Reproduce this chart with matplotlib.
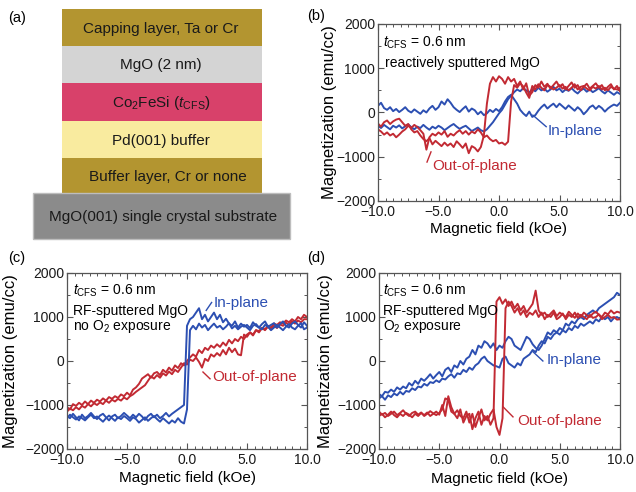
import numpy as np
import matplotlib
matplotlib.use("Agg")
from matplotlib import pyplot as plt
from matplotlib.patches import Rectangle
from matplotlib.ticker import MultipleLocator

plt.rcParams['font.family'] = ['Liberation Sans', 'DejaVu Sans']
plt.rcParams['mathtext.fontset'] = 'custom'
plt.rcParams['mathtext.rm'] = 'Liberation Sans'
plt.rcParams['mathtext.it'] = 'Liberation Sans:italic'

BLUE = "#2c4fb2"
RED = "#c22a33"

# field grid (kOe), one sweep branch per array
field = np.linspace(-10, 10, 81)

# (b) reactively sputtered MgO
b_ip_up = [-300, -350, -280, -330, -380, -300, -340, -290, -360, -310,
           -270, -330, -380, -320, -350, -280, -340, -390, -320, -360,
           -300, -340, -400, -350, -300, -260, -320, -370, -330, -300,
           -360, -420, -380, -340, -400, -430, -380, -300, -220, -120,
           -20, 60, 180, 300, 380, 460, 520, 480, 550, 500,
           450, 530, 480, 560, 500, 540, 470, 520, 580, 500,
           540, 460, 520, 490, 550, 480, 430, 500, 540, 470,
           520, 460, 500, 550, 480, 430, 500, 450, 400, 460,
           420]
b_ip_flat = [150, 220, 100, 60, 120, 30, 80, 10, 60, 120,
             40, 0, 70, 20, -30, 50, 0, 90, 150, 60,
             120, 250, 180, 300, 220, 120, 60, 10, 80, 140,
             20, 90, 50, -40, 20, -60, -20, 60, 10, 80,
             30, 120, 250, 350, 400, 300, 200, 60, -20, -80,
             20, -100, -60, 40, 120, 180, 90, 150, 200, 120,
             200, 140, 80, 160, 100, 40, 120, 60, -40, 30,
             120, 160, 80, 150, 100, 20, 90, 140, 180, 150,
             220]
b_op_1 = [-250, -320, -220, -180, -260, -200, -160, -140, -220, -300,
          -260, -380, -450, -420, -520, -600, -650, -580, -720, -640,
          -700, -760, -680, -750, -700, -780, -650, -720, -800, -700,
          -920, -760, -800, -880, -780, -520, 200, 650, 800, 700,
          820, 760, 650, 800, 700, 760, 600, 700, 520, 660,
          380, 460, 620, 560, 700, 580, 650, 540, 620, 700,
          580, 640, 520, 600, 680, 560, 620, 500, 580, 650,
          540, 600, 660, 560, 620, 500, 580, 640, 520, 600,
          480]
b_op_2 = [-380, -430, -500, -450, -520, -480, -560, -500, -430, -380,
          -300, -350, -280, -330, -400, -480, -840, -560, -480, -520,
          -450, -500, -420, -550, -480, -520, -450, -400, -480, -420,
          -500, -430, -470, -380, -450, -560, -520, -600, -650, -620,
          -700, -680, -730, -660, 250, 620, 560, 660, 590, 450,
          330, 600, 520, 640, 560, 500, 620, 580, 520, 560,
          620, 540, 580, 500, 560, 640, 520, 580, 600, 540,
          500, 580, 540, 600, 520, 560, 500, 580, 540, 520,
          560]

# (c) RF-sputtered MgO, no O2 exposure
c_ip_1 = [-1250, -1300, -1200, -1280, -1350, -1220, -1300, -1250, -1180, -1260,
          -1320, -1240, -1200, -1280, -1350, -1260, -1220, -1300, -1250, -1180,
          -1240, -1300, -1220, -1280, -1200, -1260, -1340, -1250, -1200, -1280,
          -1220, -1300, -1250, -1180, -1260, -1200, -1150, -1100, -1050, -1000,
          800, 950, 1000, 1100, 1200, 950, 1050, 900, 1000, 1100,
          950, 1050, 880, 960, 850, 800, 900, 760, 850, 780,
          820, 750, 880, 800, 760, 840, 900, 780, 820, 860,
          760, 840, 900, 800, 760, 850, 900, 820, 760, 880,
          800]
c_ip_2 = [-1300, -1220, -1280, -1330, -1260, -1300, -1350, -1280, -1220, -1300,
          -1260, -1320, -1380, -1300, -1240, -1300, -1360, -1280, -1320, -1250,
          -1300, -1360, -1280, -1320, -1400, -1340, -1280, -1360, -1300, -1250,
          -1320, -1380, -1300, -1360, -1420, -1350, -1400, -1300, -1380, -1420,
          -1100, 700, 800, 720, 850, 760, 820, 700, 780, 850,
          760, 800, 720, 780, 860, 740, 800, 720, 780, 820,
          760, 700, 800, 840, 760, 720, 820, 780, 700, 760,
          820, 760, 700, 780, 840, 760, 720, 800, 860, 720,
          760]
c_op_1 = [-1050, -1100, -980, -1020, -950, -1000, -920, -980, -900, -950,
          -880, -920, -850, -900, -820, -860, -800, -840, -760, -800,
          -720, -780, -650, -600, -520, -400, -350, -300, -380, -280,
          -250, -320, -200, -260, -150, -220, -100, -160, -50, -100,
          0, 80, 150, 100, 250, 180, 300, 250, 350, 300,
          380, 320, 420, 350, 480, 400, 500, 450, 550, 500,
          600, 650, 580, 700, 680, 750, 720, 800, 760, 850,
          820, 880, 850, 920, 880, 950, 900, 1000, 950, 1050,
          1000]
c_op_2 = [-1150, -1080, -1120, -1050, -1100, -1020, -1060, -980, -1030, -960,
          -1000, -940, -980, -900, -950, -880, -920, -860, -900, -830,
          -870, -800, -760, -700, -650, -600, -550, -450, -350, -400,
          -320, -380, -280, -330, -240, -300, -200, -250, -150, -50,
          -80, 30, 0, 80, -20, -150, 50, 0, 150, 100,
          180, 120, 250, 150, 300, 200, 280, 150, 130, 600,
          550, 650, 600, 700, 650, 750, 700, 780, 720, 800,
          750, 830, 800, 870, 820, 900, 850, 920, 880, 950,
          950]

# (d) RF-sputtered MgO, O2 exposure
d_ip_up = [-750, -800, -700, -720, -650, -700, -600, -650, -580, -620,
           -500, -560, -450, -520, -400, -450, -380, -300, -400, -320,
           -250, -350, -200, -150, -250, -100, -150, 0, -80, 50,
           100, 250, 150, 350, 300, 450, 400, 300, 400, 250,
           350, 300, 450, 550, 500, 350, 300, 250, 400, 550,
           500, 380, 300, 250, 350, 500, 650, 600, 700, 650,
           750, 700, 850, 800, 900, 850, 950, 1000, 950, 1050,
           1100, 1150, 1100, 1200, 1250, 1300, 1350, 1400, 1450, 1550,
           1500]
d_ip_low = [-850, -800, -880, -780, -820, -740, -780, -700, -760, -680,
            -700, -620, -660, -580, -600, -520, -560, -480, -500, -440,
            -480, -400, -420, -350, -300, -380, -280, -300, -200, -250,
            -150, -200, -100, -50, 50, 100, 0, -50, -100, -120,
            -150, 50, 100, -50, -100, -150, -50, -100, 50, 100,
            150, 250, 200, 350, 450, 400, 550, 500, 600, 650,
            600, 700, 650, 750, 700, 800, 750, 850, 800, 850,
            900, 850, 950, 900, 1000, 950, 1000, 900, 980, 1000,
            950]
d_op_1 = [-1150, -1220, -1180, -1250, -1200, -1150, -1230, -1180, -1120, -1200,
          -1250, -1180, -1150, -1220, -1170, -1250, -1200, -1140, -1190, -1230,
          -1180, -1100, -850, -880, -1150, -1200, -1120, -1250, -1300, -1150,
          -1400, -1200, -1500, -1300, -1100, -1350, -1250, -1450, -1300, 1350,
          1450, 1300, 1400, 1250, 1350, 1200, 1300, 1150, 1250, 1100,
          1200, 1300, 1600, 1150, 1050, 1100, 1000, 1080, 1150, 1020,
          1100, 1050, 1000, 1120, 1050, 980, 1080, 1000, 1100, 1040,
          1000, 1080, 1120, 1050, 1000, 1100, 1060, 1150, 1080, 1120,
          1100]
d_op_2 = [-1250, -1200, -1280, -1220, -1150, -1230, -1280, -1200, -1250, -1180,
          -1220, -1280, -1200, -1250, -1180, -1230, -1170, -1250, -1200, -1150,
          -1220, -1000, -1250, -800, -1050, -1200, -1300, -1100, -1400, -1250,
          -1200, -1550, -1300, -1150, -1450, -1250, -1350, -1200, -1100, -1500,
          -1680, -1300, 1200, 1350, 1250, 1100, 1200, 1050, 1150, 1000,
          1100, 1050, 1150, 1000, 1100, 950, 1050, 1000, 1100, 950,
          1000, 1080, 950, 1050, 1000, 1100, 980, 1050, 1000, 950,
          1050, 980, 1000, 1060, 950, 1000, 1050, 980, 1000, 940,
          950]

# (a) layer stack: label, colour
layers = [("Capping layer, Ta or Cr", "#b39530"),
          ("MgO (2 nm)", "#d4d4d4"),
          ("Co$_2$FeSi ($t_{\\rm CFS}$)", "#d8416a"),
          ("Pd(001) buffer", "#f9eb9f"),
          ("Buffer layer, Cr or none", "#b39530")]
substrate = "MgO(001) single crystal substrate"

fig = plt.figure(figsize=(6.36, 4.92), dpi=100)

# panel (a), drawn in pixel units on a full-figure axes
ax0 = fig.add_axes([0, 0, 1, 1])
ax0.set_xlim(0, 636)
ax0.set_ylim(492, 0)
ax0.axis('off')
tops = [9, 46, 83, 121, 158, 193]
for k, (name, col) in enumerate(layers):
    ax0.add_patch(Rectangle((62, tops[k]), 200, tops[k + 1] - tops[k],
                            facecolor=col, edgecolor='none'))
    xc = 168 if k == 4 else 161
    ax0.text(xc, (tops[k] + tops[k + 1]) / 2 + 1, name, ha='center', va='center',
             fontsize=11, color='#1a1a1a')
ax0.add_patch(Rectangle((33, 193), 257, 46, facecolor='#8b8b8b', edgecolor='#bdbdbd', lw=1))
ax0.text(163, 217, substrate, ha='center', va='center', fontsize=11, color='#1a1a1a')
for lab, x, y in [("(a)", 8, 18), ("(b)", 307, 16), ("(c)", 8, 258), ("(d)", 307, 258)]:
    ax0.text(x, y, lab, ha='left', va='center', fontsize=10.5)


def style(ax, ylab_x, xlab_y):
    ax.set_xlim(-10, 10)
    ax.set_ylim(-2000, 2000)
    ax.xaxis.set_major_locator(MultipleLocator(5))
    ax.xaxis.set_minor_locator(MultipleLocator(0.625))
    ax.yaxis.set_major_locator(MultipleLocator(1000))
    ax.yaxis.set_minor_locator(MultipleLocator(500))
    ax.xaxis.set_major_formatter(lambda v, p: ("%.1f" % v).replace("-", "\u2212"))
    for s in ax.spines.values():
        s.set_color('#555555')
        s.set_linewidth(0.9)
    ax.tick_params(which='both', direction='in', top=True, right=True, colors='#555555',
                   labelcolor='#1a1a1a', labelsize=10)
    ax.tick_params(which='major', length=4.5, width=0.8)
    ax.tick_params(which='minor', length=2.5, width=0.7)
    ax.tick_params(axis='x', pad=3)
    ax.tick_params(axis='y', pad=2)
    ax.set_xlabel("Magnetic field (kOe)", fontsize=11)
    ax.set_ylabel("Magnetization (emu/cc)", fontsize=12)
    ax.yaxis.set_label_coords(ylab_x, 0.5)
    ax.xaxis.set_label_coords(0.5, xlab_y)


def tag(ax, text, color, p0, p1, pos):
    ax.plot([p0[0], p1[0]], [p0[1], p1[1]], color=color, lw=1.0)
    ax.text(pos[0], pos[1], text, color=color, fontsize=11, ha='left', va='center')


axb = fig.add_axes([378 / 636, 1 - 201 / 492, 242 / 636, 177 / 492])
axc = fig.add_axes([67 / 636, 1 - 449 / 492, 240 / 636, 176 / 492])
axd = fig.add_axes([379 / 636, 1 - 449 / 492, 241 / 636, 176 / 492])

lw = 1.4
for y in (b_ip_up, b_ip_flat):
    axb.plot(field, y, color=BLUE, lw=lw)
for y in (b_op_1, b_op_2):
    axb.plot(field, y, color=RED, lw=lw)
style(axb, -0.17, -0.119)
axb.text(0.021, 0.893, "$t_{\\rm CFS}$ = 0.6 nm", transform=axb.transAxes, fontsize=10, va='center')
axb.text(0.029, 0.78, "reactively sputtered MgO", transform=axb.transAxes, fontsize=10, va='center')
tag(axb, "In-plane", BLUE, (2.8, -60), (3.9, -320), (4.05, -410))
tag(axb, "Out-of-plane", RED, (-5.95, -1120), (-5.62, -890), (-5.5, -1205))

for y in (c_op_1, c_op_2):
    axc.plot(field, y, color=RED, lw=lw)
for y in (c_ip_1, c_ip_2):
    axc.plot(field, y, color=BLUE, lw=lw)
style(axc, -0.204, -0.125)
axc.text(0.025, 0.898, "$t_{\\rm CFS}$ = 0.6 nm", transform=axc.transAxes, fontsize=10, va='center')
axc.text(0.025, 0.784, "RF-sputtered MgO", transform=axc.transAxes, fontsize=10, va='center')
axc.text(0.025, 0.695, "no O$_2$ exposure", transform=axc.transAxes, fontsize=10, va='center')
tag(axc, "In-plane", BLUE, (1.6, 1150), (2.05, 1330), (2.25, 1320))
tag(axc, "Out-of-plane", RED, (1.33, -250), (1.92, -405), (2.08, -360))

for y in (d_ip_up, d_ip_low):
    axd.plot(field, y, color=BLUE, lw=lw)
for y in (d_op_1, d_op_2):
    axd.plot(field, y, color=RED, lw=lw)
style(axd, -0.191, -0.131)
axd.text(0.017, 0.898, "$t_{\\rm CFS}$ = 0.6 nm", transform=axd.transAxes, fontsize=10, va='center')
axd.text(0.017, 0.784, "RF-sputtered MgO", transform=axd.transAxes, fontsize=10, va='center')
axd.text(0.017, 0.695, "O$_2$ exposure", transform=axd.transAxes, fontsize=10, va='center')
tag(axd, "In-plane", BLUE, (2.78, 210), (3.6, 0), (3.95, 25))
tag(axd, "Out-of-plane", RED, (0.29, -1040), (1.12, -1270), (1.45, -1360))

fig.savefig("out.png", dpi=100)
